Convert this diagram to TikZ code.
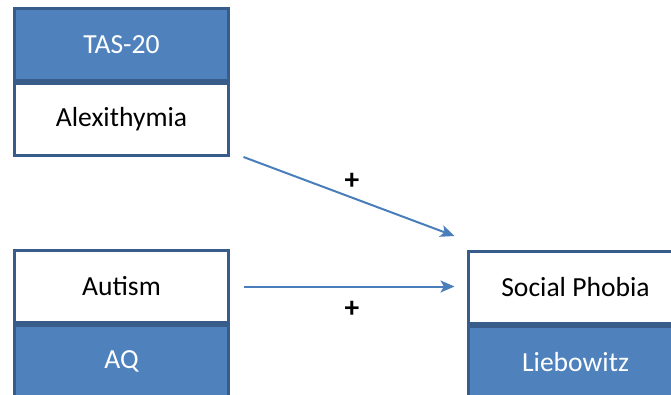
\documentclass[tikz,border=0pt]{standalone}
\usepackage{fontspec}
\setmainfont{Carlito}
\usepackage{xcolor}
\usetikzlibrary{arrows.meta,positioning,calc}

\definecolor{measureblue}{HTML}{4F81BD}
\definecolor{frameblue}{HTML}{385D8A}
\definecolor{pathblue}{HTML}{4A7EBB}

\begin{document}
\begin{tikzpicture}[
  x=0.75pt, y=-0.75pt,
  node distance=0pt,
  part/.style={draw=frameblue, line width=2.25pt, minimum width=214*0.75pt,
               minimum height=72*0.75pt, inner sep=0pt, font=\fontsize{20.7}{24}\selectfont},
  construct/.style={part, fill=white, text=black},
  measure/.style={part, fill=measureblue, text=white},
  effect/.style={draw=pathblue, line width=1.5pt,
                 -{Stealth[length=10.5pt, width=9pt, inset=2.5pt]}},
  sign/.style={font=\fontsize{22}{26}\selectfont\bfseries, inner sep=0pt}
]
  \useasboundingbox (0,0) rectangle (671,394);
  \node[measure] (tas) at (121.5,44.5) {TAS-20};
  \node[construct, below=of tas] (alex) {Alexithymia};
  \node[construct] (aut) at (121.5,286.5) {Autism};
  \node[measure, below=of aut] (aq) {AQ};
  \node[construct] (soc) at (575.5,287.5) {Social Phobia};
  \node[measure, below=of soc] (lsas) {Liebowitz};
  \draw[effect] ($(alex.south east)+(13.5,0)$) -- ($(soc.north west)+(-12.5,-14)$)
    node[sign, midway, xshift=2.25pt, yshift=11.6pt] {+};
  \draw[effect] ($(aut.east)+(13.5,0)$) -- ($(aut.east -| soc.west)+(-12.5,0)$)
    node[sign, midway, xshift=2.25pt, yshift=-17.5pt] {+};
\end{tikzpicture}
\end{document}
